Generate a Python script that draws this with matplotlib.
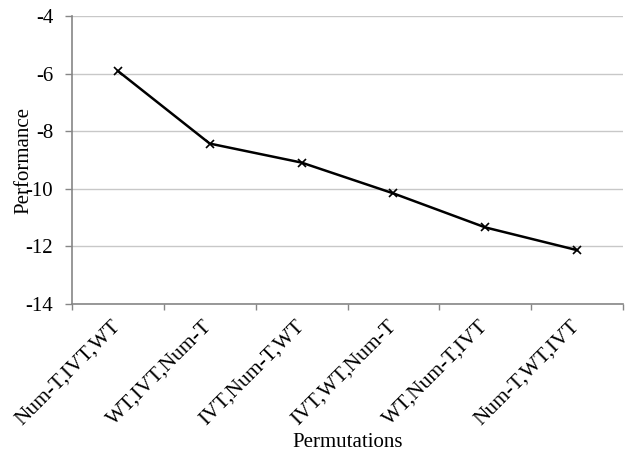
import matplotlib.pyplot as plt

# Values
permutations = ['Num-T,IVT,WT', 'WT,IVT,Num-T', 'IVT,Num-T,WT',
                'IVT,WT,Num-T', 'WT,Num-T,IVT', 'Num-T,WT,IVT']
performance = [-5.91, -8.43, -9.09, -10.16, -11.34, -12.13]

plt.rcParams['font.family'] = ['Liberation Serif', 'DejaVu Serif']
plt.rcParams['axes.unicode_minus'] = False

fig = plt.figure(figsize=(6.31, 4.54), dpi=100)
ax = fig.add_axes([72 / 631, 1 - 304 / 454, 551 / 631, 288 / 454])

x = list(range(len(permutations)))
ax.plot(x, performance, color='black', linewidth=1.8, marker='x',
        markersize=6, markeredgewidth=1.2, zorder=3)

ax.set_xlim(-0.5, len(permutations) - 0.5)
ax.set_ylim(-14, -4)
ax.set_yticks(range(-14, -3, 2))
ax.yaxis.grid(True, color='#c8c8c8', linewidth=1)
ax.set_axisbelow(True)

# category labels at centres, tick marks between categories
ax.set_xticks(x)
ax.set_xticklabels(permutations, rotation=45, ha='right', va='center',
                   rotation_mode='anchor', fontsize=15.5)
ax.set_xticks([i - 0.5 for i in range(len(permutations) + 1)], minor=True)
ax.tick_params(axis='x', which='major', length=0, pad=14)
ax.tick_params(axis='x', which='minor', length=4, color='#868686', width=1)
ax.tick_params(axis='y', length=5, color='#868686', width=1, labelsize=15, pad=8.5)

for side in ['top', 'right']:
    ax.spines[side].set_visible(False)
for side in ['left', 'bottom']:
    ax.spines[side].set_color('#868686')
    ax.spines[side].set_linewidth(1.2)

ax.set_ylabel('Performance', fontsize=15)
ax.yaxis.set_label_coords(-0.071, 0.5)
ax.set_xlabel('Permutations', fontsize=15)
ax.xaxis.set_label_coords(0.5, -0.448)

fig.savefig('out.png', dpi=100)
